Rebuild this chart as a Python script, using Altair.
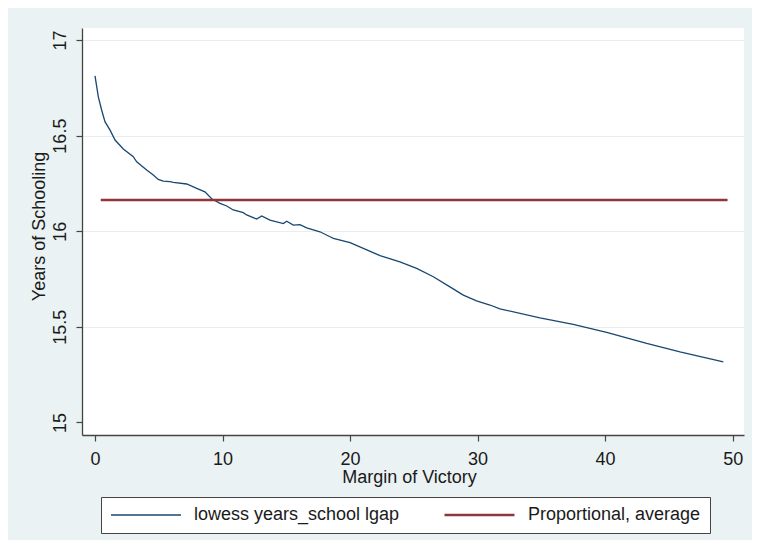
import altair as alt
import pandas as pd

# Lowess curve
lowess_x = [0.0, 0.26, 0.52, 0.78, 1.18, 1.57, 2.22, 3.0, 3.27, 4.05, 4.57, 4.96, 5.35, 5.88,
            6.14, 7.19, 7.97, 8.62, 9.15, 9.80, 10.33, 10.84, 11.63, 11.89, 12.55, 12.68,
            13.07, 13.72, 14.77, 15.03, 15.55, 16.07, 16.60, 17.38, 17.64, 18.43, 18.69,
            20.0, 21.04, 22.35, 23.91, 25.22, 26.53, 27.83, 28.88, 29.92, 30.97, 31.75,
            34.89, 37.50, 40.12, 43.26, 45.87, 49.27]
lowess_y = [16.813, 16.703, 16.634, 16.573, 16.529, 16.477, 16.430, 16.390, 16.363, 16.320,
            16.294, 16.271, 16.262, 16.259, 16.256, 16.247, 16.224, 16.206, 16.170, 16.146,
            16.132, 16.111, 16.097, 16.085, 16.067, 16.064, 16.080, 16.058, 16.040, 16.052,
            16.032, 16.034, 16.018, 16.002, 15.997, 15.971, 15.963, 15.940, 15.910, 15.872,
            15.840, 15.806, 15.762, 15.709, 15.666, 15.636, 15.614, 15.594, 15.547, 15.513,
            15.471, 15.413, 15.369, 15.317]

# Proportional, average (horizontal line)
prop_x = [0.45, 49.6]
prop_y = [16.163, 16.163]

series_names = ["lowess years_school lgap", "Proportional, average"]
series_colors = ["#1A476F", "#90353B"]
series_widths = [1.3, 2.6]

x_ticks = [0, 10, 20, 30, 40, 50]
y_ticks = [15, 15.5, 16, 16.5, 17]

df = pd.DataFrame({
    "x": lowess_x + prop_x,
    "y": lowess_y + prop_y,
    "series": [series_names[0]] * len(lowess_x) + [series_names[1]] * len(prop_x),
})

FONT = "Liberation Sans"
TXT = "#1a1a1a"
AXC = "#444444"

legend_spec = alt.Legend(
    title=None,
    orient="none",
    legendX=19,
    legendY=469,
    direction="horizontal",
    symbolType="stroke",
    symbolSize=4900,
    clipHeight=18,
    labelFont=FONT,
    labelFontSize=18,
    labelColor=TXT,
    labelOffset=12,
    labelLimit=500,
    columnPadding=43,
    padding=9,
    strokeColor=AXC,
    fillColor="white",
)

chart = alt.Chart(df).mark_line(strokeCap="butt").encode(
    x=alt.X(
        "x:Q",
        scale=alt.Scale(domain=[-1.02, 50.89], nice=False, zero=False),
        axis=alt.Axis(
            values=x_ticks,
            title="Margin of Victory",
            grid=False,
            titleX=327,
            titleY=47,
            titleBaseline="alphabetic",
            titleAlign="center",
            labelPadding=9,
        ),
    ),
    y=alt.Y(
        "y:Q",
        scale=alt.Scale(domain=[14.934, 17.063], nice=False, zero=False),
        axis=alt.Axis(
            values=y_ticks,
            format="~g",
            title="Years of Schooling",
            grid=True,
            gridColor={"condition": {"test": "datum.value === 15", "value": "transparent"},
                       "value": "#E6EEF0"},
            labelAngle=270,
            labelAlign="center",
            labelBaseline="alphabetic",
            labelPadding=11,
            titleAngle=270,
            titleX=-38,
            titleY=198,
            titleBaseline="alphabetic",
            titleAlign="center",
        ),
    ),
    color=alt.Color(
        "series:N",
        scale=alt.Scale(domain=series_names, range=series_colors),
        legend=legend_spec,
    ),
    strokeWidth=alt.StrokeWidth(
        "series:N",
        scale=alt.Scale(domain=series_names, range=series_widths),
        legend=legend_spec,
    ),
).properties(
    width=662,
    height=407,
    background="#EAF2F3",
    padding={"left": 74, "top": 20, "right": 8, "bottom": 105},
    autosize=alt.AutoSizeParams(type="none"),
).configure_view(
    fill="white",
    stroke=None,
).configure_axis(
    labelFont=FONT,
    labelFontSize=18,
    labelColor=TXT,
    titleFont=FONT,
    titleFontSize=18,
    titleColor=TXT,
    titleFontWeight="normal",
    domainColor=AXC,
    domainWidth=1.3,
    tickColor=AXC,
    tickWidth=1.2,
    tickSize=6,
    gridWidth=1,
)

chart.save("out.html", embed_options={"renderer": "svg", "actions": False})
